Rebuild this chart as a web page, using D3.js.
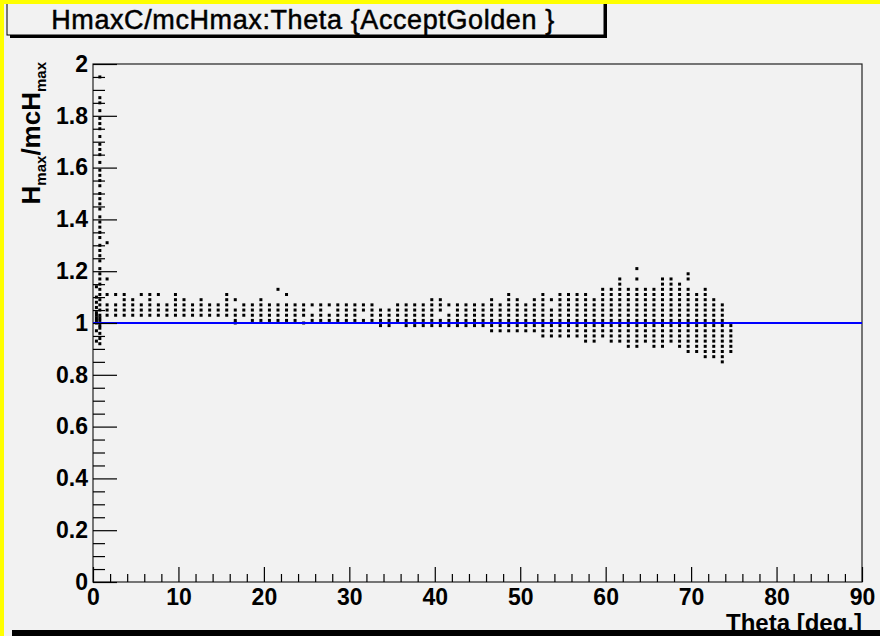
<!DOCTYPE html>
<html>
<head>
<meta charset="utf-8">
<title>HmaxC/mcHmax:Theta</title>
<script src="https://d3js.org/d3.v7.min.js"></script>
<style>
  body { margin: 0; background: #f2f2f2; }
  text { font-family: "Liberation Sans", Arial, Helvetica, sans-serif; }
</style>
</head>
<body>
<script>
// ---- data ----
// theta of each column of points (deg)
var thetaCols = [0.4, 0.8, 1.65, 2.65, 3.65, 4.65, 5.65, 6.65, 7.65, 8.65, 9.65,
  10.65, 11.65, 12.65, 13.65, 14.65, 15.65, 16.65, 17.65, 18.65, 19.65,
  20.65, 21.65, 22.65, 23.65, 24.65, 25.65, 26.65, 27.65, 28.65, 29.65,
  30.65, 31.65, 32.65, 33.65, 34.65, 35.65, 36.65, 37.65, 38.65, 39.65,
  40.65, 41.65, 42.65, 43.65, 44.65, 45.65, 46.65, 47.65, 48.65, 49.65,
  50.65, 51.65, 52.65, 53.65, 54.65, 55.65, 56.65, 57.65, 58.65, 59.65,
  60.65, 61.65, 62.65, 63.65, 64.65, 65.65, 66.65, 67.65, 68.65, 69.65,
  70.65, 71.65, 72.65, 73.65, 74.65];
// Hmax/mcHmax values found in each column
var ratioCols = [
  [1.14, 1.10, 1.08, 1.06, 1.04, 1.03, 1.02, 1.01, 1.00, 0.97, 0.93],
  [1.95, 1.87, 1.85, 1.82, 1.79, 1.77, 1.75, 1.72, 1.69, 1.67, 1.65, 1.62, 1.59, 1.57,
   1.55, 1.53, 1.50, 1.48, 1.46, 1.44, 1.41, 1.39, 1.37, 1.35, 1.33, 1.30, 1.28, 1.26,
   1.24, 1.21, 1.19, 1.17, 1.15, 1.13, 1.11, 1.09, 1.07, 1.05, 1.03, 1.02, 1.01, 0.99,
   0.98, 0.96, 0.94, 0.92],
  [1.03, 1.05, 1.07, 1.11, 1.17, 1.31],
  [1.03, 1.05, 1.07, 1.11],
  [1.03, 1.05, 1.07, 1.09, 1.11],
  [1.03, 1.05, 1.07, 1.09],
  [1.03, 1.05, 1.07, 1.11],
  [1.03, 1.05, 1.07, 1.09, 1.11],
  [1.03, 1.05, 1.07, 1.11],
  [1.03, 1.05, 1.07],
  [1.03, 1.05, 1.07, 1.09, 1.11],
  [1.03, 1.05, 1.07, 1.09],
  [1.03, 1.05, 1.07],
  [1.03, 1.05, 1.07, 1.09],
  [1.03, 1.05, 1.07],
  [1.03, 1.05, 1.07],
  [1.03, 1.05, 1.07, 1.09, 1.11],
  [1.00, 1.01, 1.03, 1.05, 1.09],
  [1.03, 1.05, 1.07],
  [1.01, 1.03, 1.05, 1.07],
  [1.01, 1.03, 1.05, 1.07, 1.09],
  [1.01, 1.03, 1.05, 1.07],
  [1.01, 1.03, 1.05, 1.07, 1.13],
  [1.01, 1.03, 1.05, 1.07, 1.11],
  [1.01, 1.03, 1.05, 1.07],
  [1.00, 1.03, 1.05, 1.07],
  [1.01, 1.03, 1.07],
  [1.01, 1.03, 1.05, 1.07],
  [1.01, 1.03, 1.07],
  [1.01, 1.03, 1.05, 1.07],
  [1.01, 1.03, 1.05, 1.07],
  [1.01, 1.03, 1.05, 1.07],
  [1.01, 1.05, 1.07],
  [1.01, 1.03, 1.05, 1.07],
  [0.99, 1.01, 1.03, 1.05],
  [0.99, 1.01, 1.03, 1.05],
  [1.01, 1.03, 1.05, 1.07],
  [0.99, 1.01, 1.03, 1.05, 1.07],
  [0.99, 1.01, 1.03, 1.05, 1.07],
  [0.99, 1.01, 1.03, 1.05, 1.07],
  [0.99, 1.01, 1.03, 1.05, 1.07, 1.09],
  [0.99, 1.01, 1.05, 1.07, 1.09],
  [0.99, 1.01, 1.03, 1.07],
  [0.99, 1.01, 1.03, 1.05, 1.07],
  [0.99, 1.01, 1.03, 1.05, 1.07],
  [0.99, 1.01, 1.03, 1.05, 1.07],
  [0.99, 1.01, 1.03, 1.05, 1.07],
  [0.97, 0.99, 1.01, 1.03, 1.05, 1.07, 1.09],
  [0.97, 0.99, 1.01, 1.03, 1.05, 1.07],
  [0.97, 0.99, 1.01, 1.03, 1.05, 1.07, 1.09, 1.11],
  [0.97, 0.99, 1.01, 1.03, 1.05, 1.07, 1.09],
  [0.97, 0.99, 1.01, 1.03, 1.05, 1.07],
  [0.97, 0.99, 1.01, 1.03, 1.05, 1.07, 1.09],
  [0.95, 0.97, 0.99, 1.01, 1.03, 1.05, 1.07, 1.09, 1.11],
  [0.95, 0.97, 0.99, 1.01, 1.03, 1.05, 1.09],
  [0.95, 0.97, 0.99, 1.01, 1.03, 1.05, 1.07, 1.09, 1.11],
  [0.95, 0.97, 0.99, 1.01, 1.03, 1.05, 1.07, 1.09, 1.11],
  [0.95, 0.97, 0.99, 1.01, 1.03, 1.05, 1.07, 1.09, 1.11],
  [0.93, 0.95, 0.97, 0.99, 1.01, 1.03, 1.05, 1.07, 1.09, 1.11],
  [0.93, 0.95, 0.97, 0.99, 1.01, 1.03, 1.05, 1.07, 1.09],
  [0.95, 0.97, 0.99, 1.01, 1.03, 1.05, 1.07, 1.09, 1.11, 1.13],
  [0.93, 0.95, 0.97, 0.99, 1.01, 1.03, 1.05, 1.07, 1.09, 1.11, 1.13],
  [0.93, 0.95, 0.97, 0.99, 1.01, 1.03, 1.05, 1.07, 1.09, 1.11, 1.13, 1.15, 1.17],
  [0.91, 0.93, 0.95, 0.97, 0.99, 1.01, 1.03, 1.05, 1.07, 1.09, 1.11, 1.13],
  [0.91, 0.93, 0.95, 0.97, 0.99, 1.01, 1.03, 1.05, 1.07, 1.09, 1.11, 1.13, 1.17, 1.21],
  [0.93, 0.95, 0.97, 0.99, 1.01, 1.03, 1.05, 1.07, 1.09, 1.11, 1.13],
  [0.91, 0.93, 0.95, 0.97, 0.99, 1.01, 1.03, 1.05, 1.07, 1.09, 1.11, 1.13],
  [0.91, 0.93, 0.95, 0.97, 0.99, 1.01, 1.03, 1.05, 1.07, 1.09, 1.11, 1.13, 1.15, 1.17],
  [0.93, 0.95, 0.97, 0.99, 1.01, 1.03, 1.05, 1.07, 1.09, 1.11, 1.13, 1.15, 1.17],
  [0.91, 0.93, 0.95, 0.97, 0.99, 1.01, 1.03, 1.05, 1.07, 1.09, 1.11, 1.13, 1.15],
  [0.89, 0.91, 0.93, 0.95, 0.97, 0.99, 1.01, 1.03, 1.05, 1.07, 1.09, 1.11, 1.13, 1.17, 1.19],
  [0.89, 0.91, 0.93, 0.95, 0.97, 0.99, 1.01, 1.03, 1.05, 1.07, 1.09, 1.11],
  [0.87, 0.89, 0.91, 0.93, 0.95, 0.97, 0.99, 1.01, 1.03, 1.05, 1.07, 1.09, 1.11, 1.13],
  [0.87, 0.89, 0.91, 0.93, 0.95, 0.97, 0.99, 1.01, 1.03, 1.05, 1.07, 1.09],
  [0.85, 0.87, 0.89, 0.91, 0.93, 0.95, 0.97, 0.99, 1.01, 1.03, 1.05, 1.07],
  [0.89, 0.91, 0.93, 0.95, 0.97, 0.99]
];
var refLine = 1.0;
var xTicks = [0, 10, 20, 30, 40, 50, 60, 70, 80, 90];
var xMinor = [2, 4, 6, 8, 12, 14, 16, 18, 22, 24, 26, 28, 32, 34, 36, 38, 42, 44, 46, 48,
  52, 54, 56, 58, 62, 64, 66, 68, 72, 74, 76, 78, 82, 84, 86, 88];
var yTicks = [0, 0.2, 0.4, 0.6, 0.8, 1, 1.2, 1.4, 1.6, 1.8, 2];
var yMinor = [0.05, 0.1, 0.15, 0.25, 0.3, 0.35, 0.45, 0.5, 0.55, 0.65, 0.7, 0.75,
  0.85, 0.9, 0.95, 1.05, 1.1, 1.15, 1.25, 1.3, 1.35, 1.45, 1.5, 1.55, 1.65, 1.7, 1.75,
  1.85, 1.9, 1.95];
var yTickText = ["0", "0.2", "0.4", "0.6", "0.8", "1", "1.2", "1.4", "1.6", "1.8", "2"];

var W = 880, H = 636;
var frame = {left: 93, right: 862, top: 64, bottom: 582};

var svg = d3.select("body").append("svg")
  .attr("width", W).attr("height", H);

// canvas background and yellow border
svg.append("rect").attr("width", W).attr("height", H).attr("fill", "#f2f2f2");
svg.append("rect").attr("x", 0).attr("y", 0).attr("width", 4).attr("height", H).attr("fill", "#ffff00");

var x = d3.scaleLinear().domain([0, 90]).range([frame.left, frame.right]);
var y = d3.scaleLinear().domain([0, 2]).range([frame.bottom, frame.top]);

// frame
svg.append("rect")
  .attr("x", frame.left).attr("y", frame.top)
  .attr("width", frame.right - frame.left).attr("height", frame.bottom - frame.top)
  .attr("fill", "none").attr("stroke", "#222").attr("stroke-width", 1.2);

// flatten points
var pts = [];
thetaCols.forEach(function(t, i) {
  ratioCols[i].forEach(function(v) { pts.push({t: t, v: v}); });
});

svg.append("g").selectAll("rect")
  .data(pts)
  .enter().append("rect")
  .attr("x", function(d) { return x(d.t) - 1.5; })
  .attr("y", function(d) { return y(d.v) - 1.5; })
  .attr("width", 3).attr("height", 3)
  .attr("fill", "#000");

// reference line at 1
svg.append("line")
  .attr("x1", x(0)).attr("x2", x(90))
  .attr("y1", y(refLine)).attr("y2", y(refLine))
  .attr("stroke", "#0000ff").attr("stroke-width", 1.8);

// axes
var fontTick = "bold 23px 'Liberation Sans', Arial, sans-serif";

var gy = svg.append("g").attr("transform", "translate(" + frame.left + ",0)")
  .call(d3.axisLeft(y).tickValues(yTicks).tickSize(-24).tickPadding(5)
    .tickFormat(function(d, i) { return yTickText[i]; }));
var gyMinor = svg.append("g").attr("transform", "translate(" + frame.left + ",0)")
  .call(d3.axisLeft(y).tickValues(yMinor).tickSize(-12).tickFormat(""));

var gx = svg.append("g").attr("transform", "translate(0," + frame.bottom + ")")
  .call(d3.axisBottom(x).tickValues(xTicks).tickSize(-15).tickPadding(7));
var gxMinor = svg.append("g").attr("transform", "translate(0," + frame.bottom + ")")
  .call(d3.axisBottom(x).tickValues(xMinor).tickSize(-8).tickFormat(""));

[gy, gyMinor, gx, gxMinor].forEach(function(g) {
  g.select(".domain").remove();
  g.selectAll("line").attr("stroke", "#000").attr("stroke-width", 1.2);
  g.selectAll("text").style("font", fontTick).attr("fill", "#000");
});

// axis titles
svg.append("text")
  .attr("x", frame.right).attr("y", 631)
  .attr("text-anchor", "end")
  .style("font", "bold 24px 'Liberation Sans', Arial, sans-serif")
  .text("Theta [deg.]");

var yt = svg.append("text")
  .attr("transform", "translate(40,62) rotate(-90)")
  .attr("text-anchor", "end")
  .style("font", "bold 26px 'Liberation Sans', Arial, sans-serif");
yt.append("tspan").text("H");
yt.append("tspan").attr("dy", 6).style("font-size", "15px").text("max");
yt.append("tspan").attr("dy", -6).text("/mcH");
yt.append("tspan").attr("dy", 6).style("font-size", "15px").text("max");

// title box with shadow
svg.append("rect").attr("x", 10).attr("y", 0).attr("width", 597).attr("height", 38).attr("fill", "#000");
svg.append("rect").attr("x", 7).attr("y", -4).attr("width", 597).attr("height", 39)
  .attr("fill", "#f2f2f2").attr("stroke", "#000").attr("stroke-width", 1);
svg.append("rect").attr("x", 0).attr("y", 0).attr("width", W).attr("height", 4).attr("fill", "#ffff00");
svg.append("text")
  .attr("x", 303).attr("y", 29)
  .attr("text-anchor", "middle")
  .style("font", "27px 'Liberation Sans', Arial, sans-serif")
  .style("letter-spacing", "0.6px")
  .attr("stroke", "#000").attr("stroke-width", 0.5)
  .text("HmaxC/mcHmax:Theta {AcceptGolden }");

// black strip at the bottom edge
svg.append("rect").attr("x", 12).attr("y", 630).attr("width", W - 12).attr("height", 6).attr("fill", "#000");
</script>
</body>
</html>
